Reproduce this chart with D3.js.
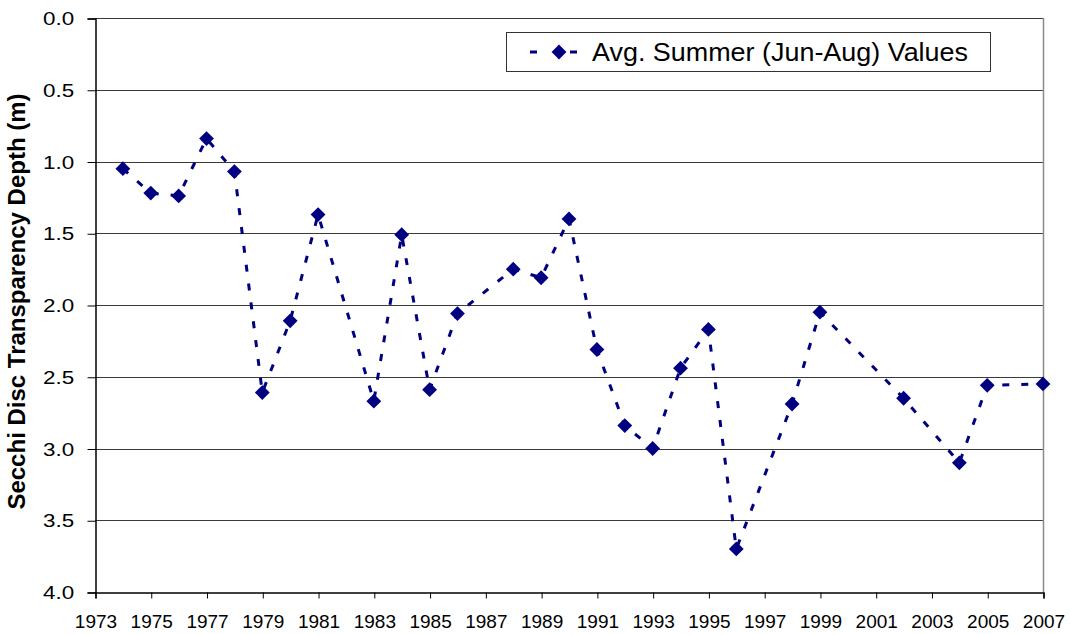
<!DOCTYPE html>
<html>
<head>
<meta charset="utf-8">
<script src="https://cdn.jsdelivr.net/npm/d3@7"></script>
<style>
  html, body { margin: 0; padding: 0; background: #fff; }
  svg { display: block; }
  text { font-family: "Liberation Sans", Arial, sans-serif; fill: #000; }
</style>
</head>
<body>
<svg id="chart" width="1070" height="634"></svg>
<script>
// ---- data ----
const years  = [1974, 1975, 1976, 1977, 1978, 1979, 1980, 1981, 1983, 1984, 1985, 1986, 1988, 1989, 1990, 1991, 1992, 1993, 1994, 1995, 1996, 1998, 1999, 2002, 2004, 2005, 2007];
const depths = [1.05, 1.22, 1.24, 0.84, 1.07, 2.61, 2.11, 1.37, 2.67, 1.51, 2.59, 2.06, 1.75, 1.81, 1.40, 2.31, 2.84, 3.00, 2.44, 2.17, 3.70, 2.69, 2.05, 2.65, 3.10, 2.56, 2.55];
const xTickYears = [1973, 1975, 1977, 1979, 1981, 1983, 1985, 1987, 1989, 1991, 1993, 1995, 1997, 1999, 2001, 2003, 2005, 2007];
const yTickValues = [0, 0.5, 1, 1.5, 2, 2.5, 3, 3.5, 4];
const seriesName = "Avg. Summer (Jun-Aug) Values";
const yAxisTitle = "Secchi Disc Transparency Depth (m)";

// ---- layout ----
const svg = d3.select("#chart");
const L = 95, R = 1043, T = 18, B = 592;
const navy = "#000080";

const x = d3.scaleLinear().domain([1973, 2007]).range([L, R]);
const y = d3.scaleLinear().domain([0, 4]).range([T, B]);

// gridlines
svg.append("g").selectAll("line")
  .data(yTickValues.filter(v => v < 4))
  .join("line")
  .attr("x1", L).attr("x2", R)
  .attr("y1", d => Math.round(y(d)) + 0.5).attr("y2", d => Math.round(y(d)) + 0.5)
  .attr("stroke", "#3a3a3a").attr("stroke-width", 1.2);

// right border
svg.append("line")
  .attr("x1", R + 0.5).attr("x2", R + 0.5).attr("y1", T).attr("y2", B)
  .attr("stroke", "#8a8a8a").attr("stroke-width", 1.5);

// y axis
const yAxis = d3.axisLeft(y).tickValues(yTickValues).tickFormat(d3.format(".1f")).tickSize(8).tickPadding(10);
const gy = svg.append("g").attr("transform", `translate(${L + 0.5},0.5)`).call(yAxis);
gy.select(".domain").attr("stroke", "#000").attr("stroke-width", 1.5);
gy.selectAll(".tick line").attr("stroke", "#000");
gy.selectAll(".tick text").attr("font-size", 19).attr("font-family", "Liberation Sans, Arial, sans-serif").attr("fill", "#000")
  .attr("transform", "scale(1.18,1)");

// x axis
const xAxis = d3.axisBottom(x).tickValues(xTickYears).tickFormat(d3.format("d")).tickSize(6).tickPadding(16);
const gx = svg.append("g").attr("transform", `translate(0.5,${B + 0.5})`).call(xAxis);
gx.select(".domain").attr("stroke", "#000").attr("stroke-width", 1.5);
gx.selectAll(".tick line").attr("stroke", "#000");
gx.selectAll(".tick text").attr("font-size", 19).attr("font-family", "Liberation Sans, Arial, sans-serif").attr("fill", "#000");

// y axis title
svg.append("text")
  .attr("transform", `translate(25,${(88 + 515) / 2}) rotate(-90)`)
  .attr("text-anchor", "middle")
  .attr("font-size", 24).attr("font-weight", "bold")
  .text(yAxisTitle);

// series line
const pts = years.map((yr, i) => [yr, depths[i]]);
svg.append("path")
  .datum(pts)
  .attr("fill", "none")
  .attr("stroke", navy).attr("stroke-width", 3)
  .attr("stroke-dasharray", "7,12")
  .attr("d", d3.line().x(d => x(d[0])).y(d => y(d[1])));

// markers
const diamond = d3.symbol().type(d3.symbolDiamond2).size(140);
svg.append("g").selectAll("path")
  .data(pts)
  .join("path")
  .attr("transform", d => `translate(${x(d[0])},${y(d[1])})`)
  .attr("d", diamond)
  .attr("fill", navy);

// legend
const lg = svg.append("g");
lg.append("rect").attr("x", 506.5).attr("y", 32.5).attr("width", 484).attr("height", 39)
  .attr("fill", "#fff").attr("stroke", "#333").attr("stroke-width", 1);
lg.append("line").attr("x1", 530).attr("x2", 578).attr("y1", 52).attr("y2", 52)
  .attr("stroke", navy).attr("stroke-width", 3).attr("stroke-dasharray", "7,33");
lg.append("path").attr("transform", "translate(559,52)").attr("d", diamond).attr("fill", navy);
lg.append("text").attr("x", 592).attr("y", 61).attr("font-size", 26)
  .attr("textLength", 376).attr("lengthAdjust", "spacingAndGlyphs")
  .text(seriesName);
</script>
</body>
</html>
